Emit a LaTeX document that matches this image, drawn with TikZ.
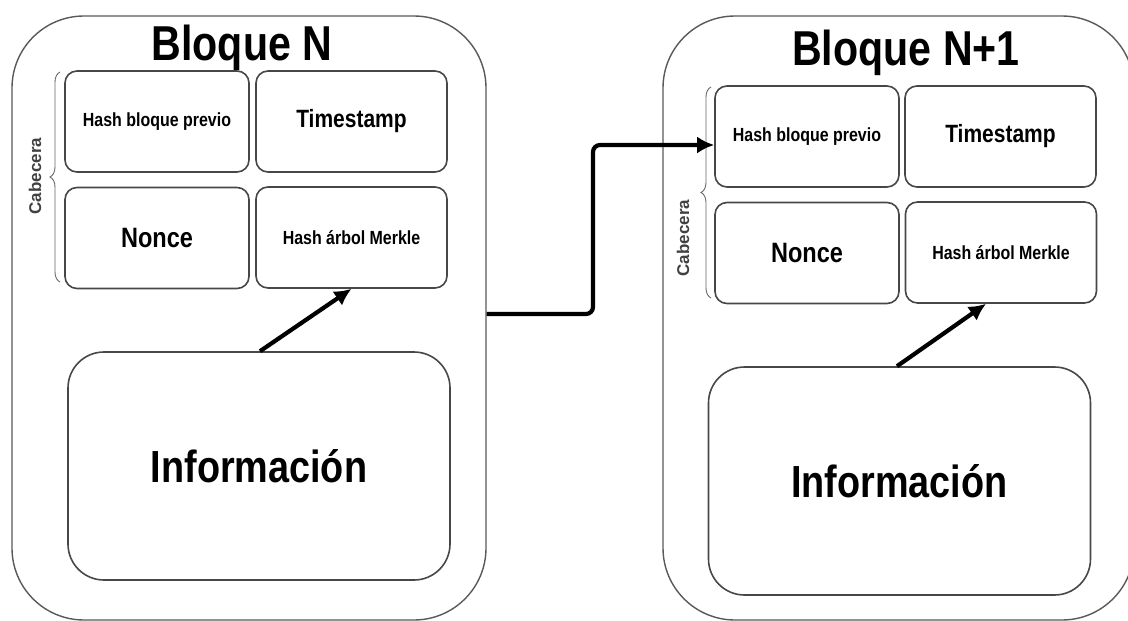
\documentclass[tikz,border=0pt]{standalone}
\usepackage{fontspec}
\newfontfamily\condfont{Liberation Sans}[FakeStretch=0.84]
\newfontfamily\labelfont{Liberation Sans}
\usetikzlibrary{arrows.meta,decorations.pathreplacing,calc}

\tikzset{
  block/.style={draw=black!65, line width=1.4pt, rounded corners=72pt,
    minimum width=#1, minimum height=604pt, inner sep=0pt},
  field/.style={draw=black!72, line width=1.6pt, rounded corners=12pt,
    minimum width=184pt, minimum height=101pt, inner sep=0pt},
  infobox/.style={draw=black!72, line width=1.6pt, rounded corners=36pt,
    minimum width=382pt, minimum height=228pt, inner sep=0pt,
    font=\condfont\bfseries\fontsize{45}{48}\selectfont},
  titletext/.style={anchor=base, inner sep=0pt,
    font=\condfont\bfseries\fontsize{49}{52}\selectfont},
  smalltxt/.style={font=\condfont\bfseries\fontsize{19}{21}\selectfont},
  midtxt/.style={font=\condfont\bfseries\fontsize{25}{27}\selectfont},
  bigtxt/.style={font=\condfont\bfseries\fontsize{28}{30}\selectfont},
  headbrace/.style={draw=black!60, line width=0.9pt,
    decorate, decoration={brace, amplitude=10pt}},
  headlabel/.style={rotate=90, text=black!75, inner sep=0pt,
    font=\labelfont\bfseries\fontsize{17}{19}\selectfont},
  link/.style={line width=4.2pt, -{Latex[length=17pt,width=17pt]}},
}

\begin{document}
\begin{tikzpicture}[x=1pt,y=-1pt]
  \useasboundingbox (0,0) rectangle (1128,621);
  \clip (0,0) rectangle (1128,621);

  % ---------------- block N ----------------
  \node[block=474pt] (bn) at (249,318) {};
  \node[titletext] (tn) at (242,60) {Bloque N};

  \node[field, smalltxt, minimum width=184pt] (hp) at (157,121.5) {Hash bloque previo};
  \node[field, midtxt, minimum width=191pt] (ts) at (351.5,121.5) {Timestamp};
  \node[field, bigtxt, minimum width=184pt] (nc) at (157,238) {Nonce};
  \node[field, smalltxt, minimum width=191pt] (mk) at (351.5,237.5) {Hash árbol Merkle};

  \coordinate (brA) at (60,282);
  \coordinate (brB) at (60,72);
  \draw[headbrace] (brA) -- (brB);
  \node[headlabel] (cb) at (35,176) {Cabecera};

  \node[infobox] (inf) at (259,466) {Información};
  \draw[link] (inf.north -| 260,0) -- (mk.south);

  % ---------------- block N+1 ----------------
  \node[block=471pt] (bm) at (898.5,318) {};
  \node[titletext] (tm) at (906,65) {Bloque N+1};

  \node[field, smalltxt, minimum width=184pt] (hp2) at (807,136.5) {Hash bloque previo};
  \node[field, midtxt, minimum width=191pt] (ts2) at (1000.5,136.5) {Timestamp};
  \node[field, bigtxt, minimum width=184pt] (nc2) at (807,253) {Nonce};
  \node[field, smalltxt, minimum width=191pt] (mk2) at (1001,252.5) {Hash árbol Merkle};

  \coordinate (brC) at (711,298);
  \coordinate (brD) at (711,87);
  \draw[headbrace] (brC) -- (brD);
  \node[headlabel] (cb2) at (683,238) {Cabecera};

  \node[infobox] (inf2) at (899.5,481) {Información};
  \draw[link] (inf2.north -| 897,0) -- (mk2.south -| 986,0);

  % ---------------- chain link ----------------
  \coordinate (out) at (bn.east |- 0,314);
  \coordinate (in) at (hp2.west |- 0,145);
  \draw[link, rounded corners=7pt] (out) -- (593,314) -- (593,145) -- (in);
\end{tikzpicture}
\end{document}
